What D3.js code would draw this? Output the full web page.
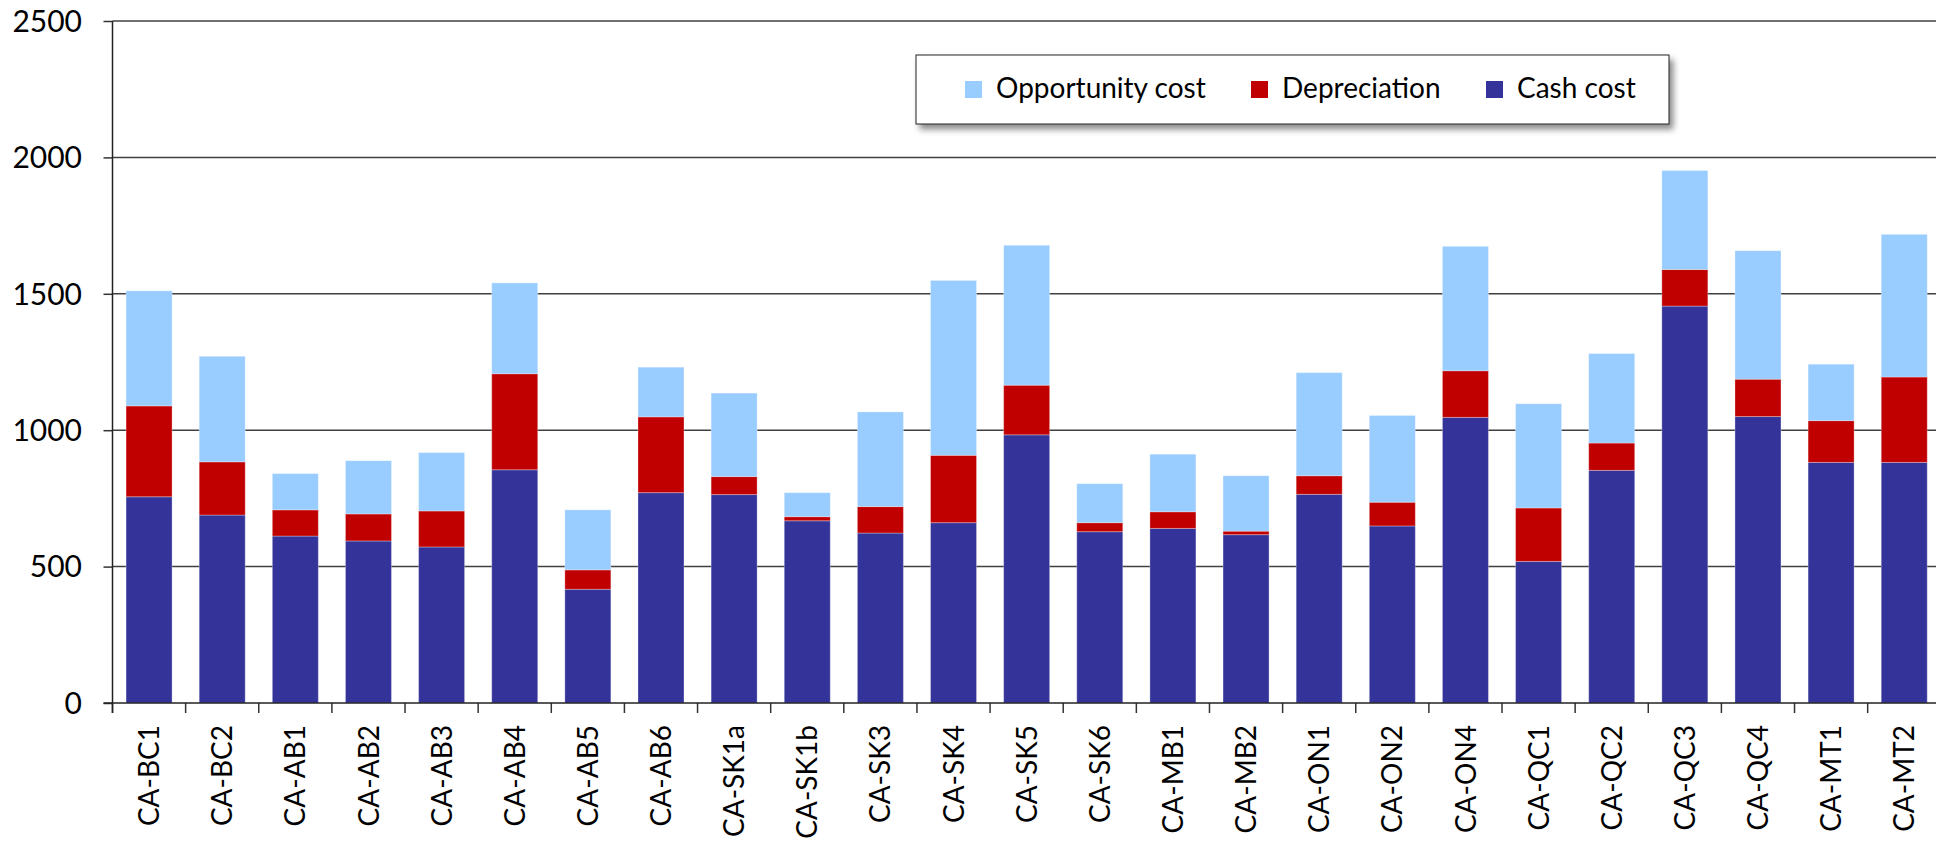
<!DOCTYPE html>
<meta charset="utf-8">
<script src="https://d3js.org/d3.v7.min.js"></script>
<style>
  html, body { margin: 0; padding: 0; background: #fff; }
  svg text { font-family: Lato, "Open Sans", sans-serif; fill: #000; }
</style>
<body>
<div id="my_dataviz"></div>
<script>

  // categories and series
  var farms = ["CA-BC1", "CA-BC2", "CA-AB1", "CA-AB2", "CA-AB3", "CA-AB4", "CA-AB5", "CA-AB6",
    "CA-SK1a", "CA-SK1b", "CA-SK3", "CA-SK4", "CA-SK5", "CA-SK6", "CA-MB1", "CA-MB2",
    "CA-ON1", "CA-ON2", "CA-ON4", "CA-QC1", "CA-QC2", "CA-QC3", "CA-QC4", "CA-MT1", "CA-MT2"];
  var cashCost = [756, 689, 612, 594, 572, 855, 417, 771, 764, 668, 623, 661, 983, 628, 640, 617,
    765, 649, 1047, 519, 853, 1455, 1050, 882, 882];
  var depreciation = [333, 195, 96, 99, 132, 352, 71, 278, 66, 15, 97, 247, 182, 33, 61, 13,
    68, 87, 171, 196, 100, 134, 137, 153, 313];
  var opportunityCost = [422, 387, 133, 195, 214, 333, 220, 182, 306, 88, 347, 641, 513, 143, 211, 203,
    378, 318, 456, 382, 328, 363, 471, 207, 523];
  var yTicks = [0, 500, 1000, 1500, 2000, 2500];

  var seriesKeys = ["cash", "dep", "opp"];
  var seriesColor = { cash: "#333399", dep: "#C00000", opp: "#99CCFF" };
  var legendItems = [
    { key: "opp", label: "Opportunity cost" },
    { key: "dep", label: "Depreciation" },
    { key: "cash", label: "Cash cost" }
  ];

  var W = 1936, H = 841;
  // plot box (right edge lies just past the picture edge, as in the original)
  var plot = { x0: 112.5, x1: 1940.8, y0: 21, y1: 703 };

  var svg = d3.select("#my_dataviz")
    .append("svg")
    .attr("width", W)
    .attr("height", H);

  var rows = farms.map(function (f, i) {
    return { farm: f, cash: cashCost[i], dep: depreciation[i], opp: opportunityCost[i] };
  });
  var stacked = d3.stack().keys(seriesKeys)(rows);

  var x = d3.scaleBand()
    .domain(farms)
    .range([plot.x0, plot.x1])
    .paddingInner(0.371)
    .paddingOuter(0.1855);

  var y = d3.scaleLinear()
    .domain([0, 2500])
    .range([plot.y1, plot.y0]);

  // y ticks (left of axis)
  svg.append("g")
    .attr("transform", "translate(" + plot.x0 + ",0)")
    .call(d3.axisLeft(y).tickValues(yTicks).tickSize(9).tickFormat(""))
    .call(function (g) {
      g.select(".domain").remove();
      g.selectAll(".tick line").attr("stroke", "#333").attr("stroke-width", 1.5);
    });

  // gridlines
  svg.append("g")
    .selectAll("line")
    .data(yTicks.filter(function (d) { return d > 0; }))
    .enter()
    .append("line")
    .attr("x1", plot.x0)
    .attr("x2", W)
    .attr("y1", function (d) { return y(d); })
    .attr("y2", function (d) { return y(d); })
    .attr("stroke", "#404040")
    .attr("stroke-width", 1.5);

  svg.append("g")
    .selectAll("text")
    .data(yTicks)
    .enter()
    .append("text")
    .attr("x", 82)
    .attr("y", function (d) { return y(d); })
    .attr("dy", "0.36em")
    .attr("text-anchor", "end")
    .style("font-size", "30px")
    .text(function (d) { return d; });

  // bars
  svg.append("g")
    .selectAll("g")
    .data(stacked)
    .enter()
    .append("g")
    .attr("fill", function (s) { return seriesColor[s.key]; })
    .selectAll("rect")
    .data(function (s) { return s; })
    .enter()
    .append("rect")
    .attr("x", function (d) { return x(d.data.farm); })
    .attr("width", x.bandwidth())
    .attr("y", function (d) { return y(d[1]); })
    .attr("height", function (d) { return y(d[0]) - y(d[1]); })
    .attr("stroke", "rgba(255,255,255,0.3)")
    .attr("stroke-width", 1);

  // x axis: ticks at category boundaries
  var bounds = farms.map(function (f) { return x(f) - x.step() * x.paddingOuter(); });
  bounds.push(plot.x1);
  svg.append("g")
    .selectAll("line")
    .data(bounds)
    .enter()
    .append("line")
    .attr("x1", function (d) { return d; })
    .attr("x2", function (d) { return d; })
    .attr("y1", plot.y1)
    .attr("y2", plot.y1 + 10)
    .attr("stroke", "#333")
    .attr("stroke-width", 1.5);

  svg.append("line")
    .attr("x1", plot.x0 - 9).attr("x2", W)
    .attr("y1", plot.y1).attr("y2", plot.y1)
    .attr("stroke", "#222").attr("stroke-width", 1.5);

  svg.append("line")
    .attr("x1", plot.x0).attr("x2", plot.x0)
    .attr("y1", plot.y0).attr("y2", plot.y1 + 10)
    .attr("stroke", "#222").attr("stroke-width", 1.5);

  svg.append("g")
    .selectAll("text")
    .data(farms)
    .enter()
    .append("text")
    .attr("transform", function (d) {
      return "translate(" + (x(d) + x.bandwidth() / 2) + "," + (plot.y1 + 22) + ")rotate(-90)";
    })
    .attr("dy", "0.36em")
    .attr("text-anchor", "end")
    .style("font-size", "28px")
    .text(function (d) { return d; });

  // legend
  var defs = svg.append("defs");
  var shadow = defs.append("filter").attr("id", "shadow")
    .attr("x", "-5%").attr("y", "-20%").attr("width", "115%").attr("height", "150%");
  shadow.append("feDropShadow")
    .attr("dx", 4).attr("dy", 5).attr("stdDeviation", 3)
    .attr("flood-color", "#000").attr("flood-opacity", 0.45);

  var legend = svg.append("g");
  legend.append("rect")
    .attr("x", 916).attr("y", 55)
    .attr("width", 753).attr("height", 69)
    .attr("fill", "#fff")
    .attr("stroke", "#222")
    .attr("stroke-width", 1)
    .attr("filter", "url(#shadow)");

  var legendX = [965, 1251, 1486];
  var item = legend.selectAll(".item")
    .data(legendItems)
    .enter()
    .append("g")
    .attr("transform", function (d, i) { return "translate(" + legendX[i] + ",81)"; });
  item.append("rect")
    .attr("width", 17).attr("height", 17)
    .attr("fill", function (d) { return seriesColor[d.key]; });
  item.append("text")
    .attr("x", 31)
    .attr("y", 16.5)
    .style("font-size", "28px")
    .text(function (d) { return d.label; });

</script>
</body>
